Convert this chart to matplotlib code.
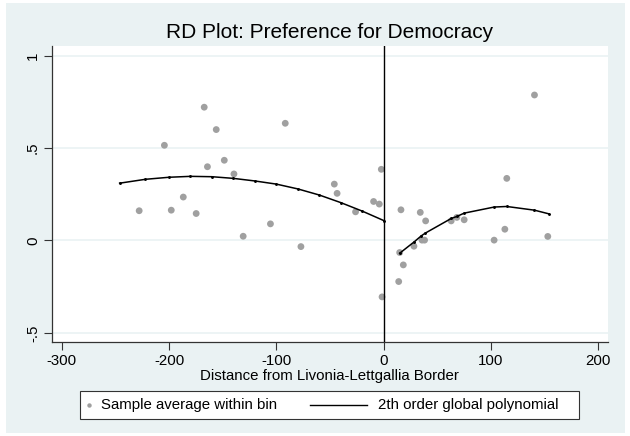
import matplotlib
matplotlib.use("Agg")
import matplotlib.pyplot as plt
from matplotlib.lines import Line2D
from matplotlib.patches import Rectangle

# Bin averages (scatter)
bin_x = [-227.8, -204.3, -197.9, -186.7, -174.7, -167.2, -164.2, -156.0, -148.5,
         -139.5, -130.9, -105.5, -91.7, -77.1, -46.0, -43.4, -26.2, -9.4, -4.1,
         -2.2, -1.5,
         14.0, 14.9, 16.1, 18.3, 28.2, 34.1, 35.7, 38.1, 39.1, 62.9, 68.2, 75.0,
         102.9, 112.9, 114.7, 140.5, 152.9]
bin_y = [0.161, 0.515, 0.164, 0.235, 0.146, 0.721, 0.399, 0.600, 0.434,
         0.360, 0.023, 0.090, 0.634, -0.033, 0.305, 0.255, 0.155, 0.211, 0.197,
         0.385, -0.305,
         -0.222, -0.065, 0.166, -0.132, -0.031, 0.152, 0.002, 0.002, 0.106, 0.106, 0.125, 0.112,
         0.002, 0.061, 0.336, 0.787, 0.022]

# Polynomial fit, left of border
fit_left_x = [-246, -222, -200, -180, -160, -140, -120, -100, -80, -60, -40, -20, 0]
fit_left_y = [0.310, 0.331, 0.342, 0.347, 0.345, 0.336, 0.322, 0.305, 0.279, 0.246, 0.205, 0.159, 0.108]
# Polynomial fit, right of border
fit_right_x = [14.9, 28.5, 35.0, 38.8, 62.9, 68.2, 75.0, 103.0, 114.7, 140.5, 154.0]
fit_right_y = [-0.069, -0.007, 0.025, 0.040, 0.119, 0.130, 0.148, 0.181, 0.184, 0.164, 0.144]

x_ticks = [-300, -200, -100, 0, 100, 200]
y_ticks = [-0.5, 0, 0.5, 1]
y_ticklabels = ["-.5", "0", ".5", "1"]

title = "RD Plot: Preference for Democracy"
xlabel = "Distance from Livonia-Lettgallia Border"
leg_labels = ["Sample average within bin", "2th order global polynomial"]

plt.rcParams['font.family'] = ['Liberation Sans', 'DejaVu Sans']

BG = "#EAF2F3"
PT = "#A0A0A0"
FS = 10.8
W, H = 630, 436
fig = plt.figure(figsize=(W / 100, H / 100), dpi=100, facecolor="white")
# light background panel with thin white border
fig.patches.append(Rectangle((6 / W, 3 / H), (625 - 6) / W, (433 - 3) / H,
                             transform=fig.transFigure, facecolor=BG,
                             edgecolor="none", zorder=-10))

l, r, t, b = 51.7, 608, 46, 342
ax = fig.add_axes([l / W, (H - b) / H, (r - l) / W, (b - t) / H])
ax.set_facecolor("white")
ax.set_xlim(-309.3, 209.0)
ax.set_ylim(-0.549, 1.052)

for s in ["top", "right"]:
    ax.spines[s].set_visible(False)
for s in ["left", "bottom"]:
    ax.spines[s].set_color("#333333")
    ax.spines[s].set_linewidth(0.9)

ax.set_yticks(y_ticks)
ax.set_yticklabels(y_ticklabels, rotation=90, va="center", fontsize=FS)
ax.set_xticks(x_ticks)
ax.set_xticklabels([str(v) for v in x_ticks], fontsize=FS)
ax.tick_params(direction="out", length=5.5, width=0.8, color="#333333", pad=3)
ax.yaxis.grid(True, color=BG, linewidth=1.2)
ax.set_axisbelow(True)

ax.scatter(bin_x, bin_y, s=24, color=PT, edgecolors="none", zorder=3)
ax.plot(fit_left_x, fit_left_y, color="black", linewidth=1.1, marker="o",
        markersize=1.1, zorder=4)
ax.plot(fit_right_x, fit_right_y, color="black", linewidth=1.1, marker="o",
        markersize=1.1, zorder=4)
ax.axvline(0, color="black", linewidth=1.0, zorder=5)

ax.set_title(title, fontsize=15, pad=6)
ax.set_xlabel(xlabel, fontsize=FS, labelpad=1)

# Legend drawn as a framed box below the plot
def fx(px):
    return px / W

def fy(py):
    return 1 - py / H

fig.patches.append(Rectangle((fx(80), fy(419)), fx(579) - fx(80), fy(391) - fy(419),
                             transform=fig.transFigure, facecolor="white",
                             edgecolor="#333333", linewidth=0.8, zorder=1))
ly = 405
fig.lines.append(Line2D([fx(88.5)], [fy(ly)], transform=fig.transFigure,
                        marker="o", linestyle="none", color=PT,
                        markersize=3.2, markeredgewidth=0, zorder=2))
fig.text(fx(101), fy(ly), leg_labels[0], fontsize=FS, va="center", ha="left")
fig.lines.append(Line2D([fx(310), fx(367)], [fy(ly), fy(ly)], transform=fig.transFigure,
                        color="black", linewidth=1.0, zorder=2))
fig.text(fx(378), fy(ly), leg_labels[1], fontsize=FS, va="center", ha="left")

fig.savefig("out.png", dpi=100, facecolor="white")
